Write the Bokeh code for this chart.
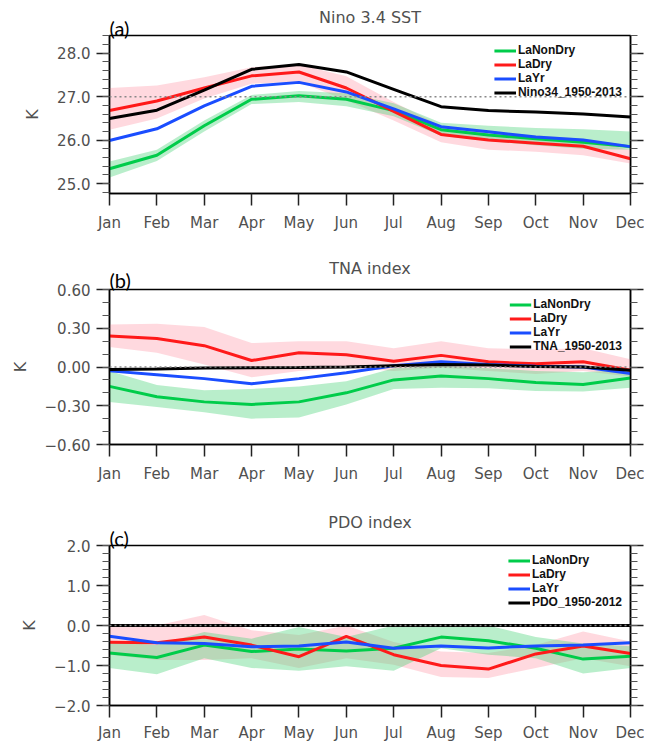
import numpy as np
from bokeh.plotting import figure
from bokeh.layouts import column
from bokeh.models import (LinearAxis, FixedTicker, Range1d, Legend, LegendItem,
                          Span, CustomJSTickFormatter, Title)
from bokeh.embed import file_html
from bokeh.resources import INLINE

# ---------------- data ----------------
months = ["Jan", "Feb", "Mar", "Apr", "May", "Jun", "Jul", "Aug", "Sep", "Oct", "Nov", "Dec"]
series_names = ["LaNonDry", "LaDry", "LaYr"]

# (a) Nino 3.4 SST (K)
nino_nondry = [25.34, 25.65, 26.33, 26.94, 27.02, 26.94, 26.68, 26.24, 26.12, 26.03, 25.95, 25.85]
nino_dry = [26.68, 26.90, 27.20, 27.48, 27.57, 27.20, 26.66, 26.13, 26.00, 25.93, 25.86, 25.57]
nino_layr = [25.99, 26.26, 26.79, 27.24, 27.33, 27.11, 26.72, 26.31, 26.19, 26.07, 26.00, 25.85]
nino_clim = [26.50, 26.69, 27.15, 27.63, 27.74, 27.57, 27.17, 26.77, 26.68, 26.65, 26.60, 26.53]
nino_nondry_lo = [25.14, 25.52, 26.20, 26.83, 26.88, 26.78, 26.55, 26.10, 25.98, 25.88, 25.80, 25.78]
nino_nondry_hi = [25.51, 25.78, 26.45, 27.04, 27.13, 27.08, 26.85, 26.40, 26.33, 26.28, 26.25, 26.20]
nino_dry_lo = [26.24, 26.50, 26.96, 27.30, 27.34, 26.92, 26.45, 25.95, 25.78, 25.73, 25.65, 25.46]
nino_dry_hi = [27.20, 27.26, 27.45, 27.68, 27.74, 27.47, 26.88, 26.33, 26.20, 26.11, 26.03, 25.77]
nino_ref = 27.0

# (b) TNA index (K)
tna_nondry = [-0.15, -0.23, -0.27, -0.29, -0.27, -0.20, -0.10, -0.07, -0.09, -0.12, -0.135, -0.085]
tna_dry = [0.24, 0.22, 0.165, 0.05, 0.11, 0.095, 0.045, 0.09, 0.04, 0.025, 0.04, -0.025]
tna_layr = [-0.03, -0.06, -0.09, -0.13, -0.09, -0.045, 0.01, 0.04, 0.02, 0.005, 0.0, -0.05]
tna_clim = [-0.02, -0.015, -0.008, -0.006, -0.004, 0.0, 0.01, 0.02, 0.015, 0.004, 0.0, -0.025]
tna_nondry_lo = [-0.27, -0.31, -0.35, -0.40, -0.39, -0.29, -0.17, -0.16, -0.165, -0.185, -0.19, -0.16]
tna_nondry_hi = [-0.03, -0.14, -0.18, -0.17, -0.15, -0.11, -0.01, 0.01, -0.01, -0.03, -0.04, -0.02]
tna_dry_lo = [0.155, 0.11, 0.02, -0.08, -0.03, -0.005, -0.03, -0.005, -0.03, -0.055, -0.03, -0.075]
tna_dry_hi = [0.33, 0.335, 0.31, 0.185, 0.20, 0.20, 0.145, 0.20, 0.145, 0.135, 0.145, 0.06]
tna_ref = 0.0

# (c) PDO index
pdo_nondry = [-0.69, -0.80, -0.49, -0.65, -0.59, -0.64, -0.57, -0.29, -0.38, -0.57, -0.84, -0.77]
pdo_dry = [-0.42, -0.43, -0.29, -0.49, -0.78, -0.27, -0.73, -1.00, -1.09, -0.71, -0.51, -0.70]
pdo_layr = [-0.27, -0.43, -0.45, -0.53, -0.51, -0.41, -0.57, -0.51, -0.56, -0.51, -0.49, -0.43]
pdo_clim = [0.0, 0.0, 0.0, 0.0, 0.0, 0.0, 0.0, 0.0, 0.0, 0.0, 0.0, 0.0]
pdo_nondry_lo = [-1.06, -1.22, -0.82, -1.06, -1.13, -1.02, -1.13, -0.57, -0.73, -0.82, -1.20, -1.06]
pdo_nondry_hi = [-0.41, -0.49, -0.16, -0.33, -0.04, -0.29, 0.0, 0.0, 0.0, -0.29, -0.45, -0.52]
pdo_dry_lo = [-0.73, -0.86, -0.86, -0.82, -1.06, -0.82, -0.98, -1.29, -1.31, -1.06, -0.82, -1.02]
pdo_dry_hi = [-0.04, 0.0, 0.26, -0.12, -0.24, 0.0, -0.41, -0.65, -0.69, -0.49, -0.15, -0.40]
pdo_ref = 0.0

# ---------------- style ----------------
C_GREEN = "#00cc4a"
C_RED = "#ff1a1a"
C_BLUE = "#1a4dff"
C_BLACK = "#000000"
BAND_GREEN = "#4fd47c"
BAND_RED = "#ffa0b0"
TXT = "#505050"
FONT = "DejaVu Sans"
W = 644
BL = 109
BR = 14

xs = list(range(len(months)))


def make_panel(title, tag, clim_label, ylim, major, minor, decimals,
               nondry, dry, layr, clim, nd_lo, nd_hi, d_lo, d_hi, ref,
               height, b_top, b_bot, tag_standoff, title_standoff, xlab_standoff):
    p = figure(width=W, height=height, output_backend="svg", toolbar_location=None,
               x_range=Range1d(0, 11), y_range=Range1d(*ylim),
               x_axis_type=None, y_axis_type=None, title=None,
               min_border_left=BL, min_border_right=BR,
               min_border_top=b_top, min_border_bottom=b_bot)
    p.outline_line_color = "black"
    p.outline_line_width = 1.5
    p.background_fill_color = "white"
    p.border_fill_color = "white"

    # axes
    xa = LinearAxis(ticker=FixedTicker(ticks=xs, minor_ticks=[]),
                    major_label_overrides={i: m for i, m in enumerate(months)})
    ya = LinearAxis(ticker=FixedTicker(ticks=major, minor_ticks=minor),
                    formatter=CustomJSTickFormatter(
                        code="return tick.toFixed(%d).replace('-', '\\u2212');" % decimals),
                    axis_label="K")
    yr = LinearAxis(ticker=FixedTicker(ticks=major, minor_ticks=minor),
                    formatter=CustomJSTickFormatter(code="return '';"))
    for ax in (xa, ya, yr):
        ax.axis_line_color = "black"
        ax.axis_line_width = 1.5
        ax.major_tick_line_color = "#222222"
        ax.major_tick_line_width = 1.5
        ax.minor_tick_line_color = "#555555"
        ax.minor_tick_line_width = 1
        ax.major_tick_in = 0
        ax.major_tick_out = 13
        ax.minor_tick_in = 0
        ax.minor_tick_out = 7
        ax.major_label_text_font = FONT
        ax.major_label_text_font_size = "15px"
        ax.major_label_text_color = TXT
    xa.major_tick_out = 12
    xa.major_label_standoff = xlab_standoff
    ya.major_label_standoff = 6
    yr.major_label_standoff = 0
    ya.axis_label_text_font = FONT
    ya.axis_label_text_font_size = "16px"
    ya.axis_label_text_font_style = "normal"
    ya.axis_label_text_color = TXT
    ya.axis_label_standoff = 12
    p.add_layout(xa, "below")
    p.add_layout(ya, "left")
    p.add_layout(yr, "right")

    # reference dotted line
    p.add_layout(Span(location=ref, dimension="width", line_color="#888888",
                      line_width=1.5, line_dash="2 3"))

    # spread bands
    p.varea(x=xs, y1=d_lo, y2=d_hi, fill_color=BAND_RED, fill_alpha=0.4)
    p.varea(x=xs, y1=nd_lo, y2=nd_hi, fill_color=BAND_GREEN, fill_alpha=0.4)

    r_nd = p.line(xs, nondry, line_color=C_GREEN, line_width=3)
    r_d = p.line(xs, dry, line_color=C_RED, line_width=3)
    r_y = p.line(xs, layr, line_color=C_BLUE, line_width=3)
    r_c = p.line(xs, clim, line_color=C_BLACK, line_width=3)

    legend = Legend(items=[LegendItem(label=series_names[0], renderers=[r_nd]),
                           LegendItem(label=series_names[1], renderers=[r_d]),
                           LegendItem(label=series_names[2], renderers=[r_y]),
                           LegendItem(label=clim_label, renderers=[r_c])],
                    location="top_right", margin=8, padding=0, spacing=0,
                    glyph_width=22, glyph_height=9, label_height=9, label_standoff=2,
                    label_text_font="Liberation Sans", label_text_font_size="12px",
                    label_text_font_style="bold", label_text_color="#111111",
                    border_line_color=None, background_fill_alpha=0)
    p.add_layout(legend)

    # panel tag (nearest the frame), then the centred title above it
    p.add_layout(Title(text=tag, align="left", standoff=tag_standoff,
                       text_font="Lato", text_font_size="20px", text_font_style="normal",
                       text_color="black"), "above")
    p.add_layout(Title(text=title, align="center", standoff=title_standoff,
                       text_font=FONT, text_font_size="16px", text_font_style="normal",
                       text_color=TXT), "above")
    return p


def ticks(lo, hi, step):
    return [float(v) for v in np.round(np.arange(lo, hi + step / 2, step), 4)]


pa = make_panel("Nino 3.4 SST", "(a)", "Nino34_1950-2013", (24.77, 28.41),
                [25.0, 26.0, 27.0, 28.0], ticks(24.8, 28.4, 0.2), 1,
                nino_nondry, nino_dry, nino_layr, nino_clim,
                nino_nondry_lo, nino_nondry_hi, nino_dry_lo, nino_dry_hi, nino_ref,
                235, 35, 42, -8, -19, 8)
pb = make_panel("TNA index", "(b)", "TNA_1950-2013", (-0.6, 0.6),
                [-0.6, -0.3, 0.0, 0.3, 0.6], ticks(-0.6, 0.6, 0.1), 2,
                tna_nondry, tna_dry, tna_layr, tna_clim,
                tna_nondry_lo, tna_nondry_hi, tna_dry_lo, tna_dry_hi, tna_ref,
                250, 54, 40, -4, -20, 8)
pc = make_panel("PDO index", "(c)", "PDO_1950-2012", (-2.0, 2.0),
                [-2.0, -1.0, 0.0, 1.0, 2.0], ticks(-2.0, 2.0, 0.2), 1,
                pdo_nondry, pdo_dry, pdo_layr, pdo_clim,
                pdo_nondry_lo, pdo_nondry_hi, pdo_dry_lo, pdo_dry_hi, pdo_ref,
                259, 60, 36, -8, -9, 6)

layout = column(pa, pb, pc, spacing=0)
open("out.html", "w").write(file_html(layout, INLINE))
